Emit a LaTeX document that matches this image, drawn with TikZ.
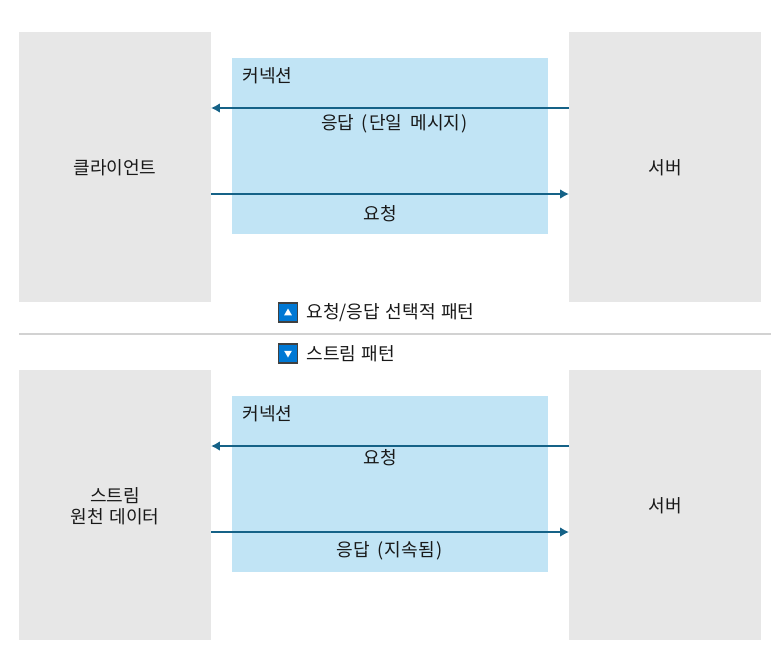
\documentclass[tikz,border=0pt]{standalone}
\usepackage{fontspec}
\setmainfont[WordSpace=1.4]{Noto Sans CJK KR}
\usetikzlibrary{shapes.geometric,arrows.meta}
\definecolor{endgray}{HTML}{E7E7E7}
\definecolor{connblue}{HTML}{C1E4F5}
\definecolor{arrowblue}{HTML}{156287}
\definecolor{btnblue}{HTML}{0078D4}
\definecolor{rulegray}{HTML}{D2D2D2}
\def\px{0.02cm}
\def\paren#1{(\kern0.7pt#1\kern0.7pt)}
\tikzset{
	label text/.style={font=\fontsize{10.3pt}{12pt}\selectfont, text=black!90, inner sep=0pt},
	endbox/.style={fill=endgray, anchor=north west, inner sep=0pt, outer sep=0pt, minimum width=192*\px, minimum height=270*\px},
	connbox/.style={fill=connblue, anchor=north west, inner sep=0pt, outer sep=0pt, minimum width=316*\px, minimum height=176*\px},
	msgarrow/.style={draw=arrowblue, line width=1.1pt, -{Latex[length=5pt,width=5.5pt]}},
	btnbox/.style={fill=btnblue, draw=black!75, line width=0.6pt, minimum size=19*\px, inner sep=0pt},
	btntri/.style={regular polygon, regular polygon sides=3, fill=white, inner sep=0pt, minimum size=9*\px}
}
\begin{document}
\begin{tikzpicture}[x=\px,y=-\px]
	%%%%% top pattern %%%%%
	\useasboundingbox (0,0) rectangle (780,670);
	\def\xclient{19}
	\def\xconn{232}
	\def\xserver{569}
	\def\xtext{242}
	
	\node[endbox] (clientone) at (\xclient,32) {};
	\node[endbox] (serverone) at (\xserver,32) {};
	\node[connbox] (connone) at (\xconn,58) {};
	\node[label text] (clientonetext) at (115,168) {클라이언트};
	\node[label text] (serveronetext) at (665,168) {서버};
	\node[label text, anchor=west] (connonetext) at (\xtext,76) {커넥션};
	
	\coordinate (respone) at (0,108);
	\coordinate (reqone) at (0,194);
	\draw[msgarrow] (serverone.west |- respone) -- (clientone.east |- respone);
	\draw[msgarrow] (clientone.east |- reqone) -- (serverone.west |- reqone);
	\node[label text] (responetext) at (394.5,124) {응답\kern1pt{} \paren{단일\kern1.5pt{} 메시지}};
	\node[label text] (reqonetext) at (380,214) {요청};
	
	%legend between the two
	\coordinate (ruleleft) at (19,334);
	\coordinate (ruleright) at (771,334);
	\draw[rulegray, line width=0.9pt] (ruleleft) -- (ruleright);
	\node[btnbox] (btnup) at (288,312.5) {};
	\node[btntri] (triup) at (288,313) {};
	\node[label text, anchor=west] (btnuptext) at (306,313) {요청/응답 선택적 패턴};
	\node[btnbox] (btndown) at (288,353.5) {};
	\node[btntri, shape border rotate=180] (tridown) at (288,353) {};
	\node[label text, anchor=west] (btndowntext) at (306,354) {스트림 패턴};
	
	%%%%% bottom pattern %%%%%
	\node[endbox] (clienttwo) at (\xclient,370) {};
	\node[endbox] (servertwo) at (\xserver,370) {};
	\node[connbox] (conntwo) at (\xconn,396) {};
	\node[label text, align=center] (clienttwotext) at (115,506) {스트림\\원천 데이터};
	\node[label text] (servertwotext) at (665,506) {서버};
	\node[label text, anchor=west] (conntwotext) at (\xtext,414) {커넥션};
	
	\coordinate (reqtwo) at (0,446);
	\coordinate (resptwo) at (0,532);
	\draw[msgarrow] (servertwo.west |- reqtwo) -- (clienttwo.east |- reqtwo);
	\draw[msgarrow] (clienttwo.east |- resptwo) -- (servertwo.west |- resptwo);
	\node[label text] (reqtwotext) at (380,458) {요청};
	\node[label text] (resptwotext) at (389.5,551) {응답\kern1pt{} \paren{지속됨}};
\end{tikzpicture}
\end{document}
